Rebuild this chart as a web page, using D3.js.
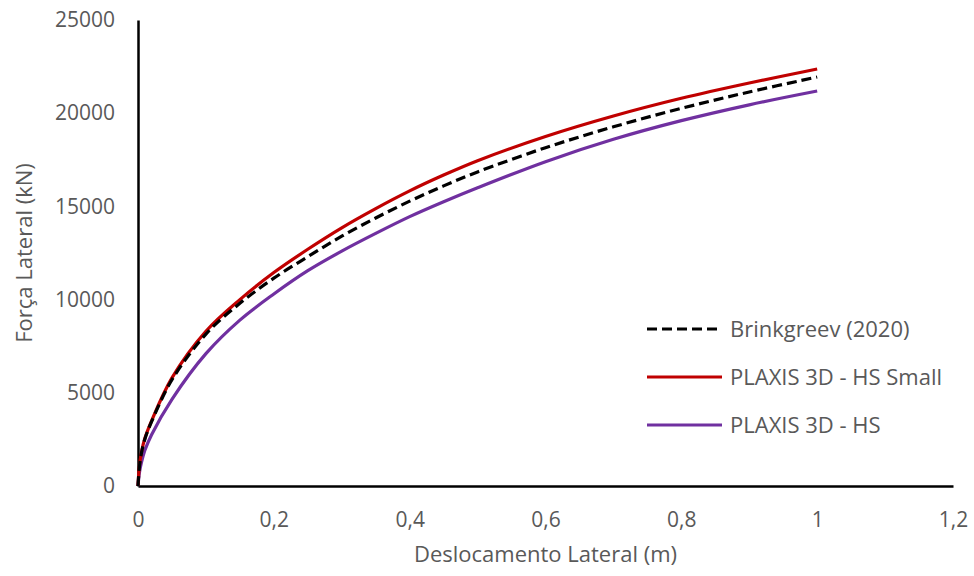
<!DOCTYPE html>
<html>
<head>
<meta charset="utf-8">
<script src="https://cdn.jsdelivr.net/npm/d3@7"></script>
<style>
  body { margin: 0; background: #fff; }
  text { font-family: "Open Sans", sans-serif; fill: #595959; }
</style>
</head>
<body>
<div id="chart"></div>
<script>
// values
var xTicks = [0, 0.2, 0.4, 0.6, 0.8, 1, 1.2];
var yTicks = [0, 5000, 10000, 15000, 20000, 25000];

var brinkX = [0, 0.002, 0.005, 0.01, 0.02, 0.05, 0.1, 0.15, 0.2, 0.25, 0.3, 0.35, 0.4, 0.45, 0.5, 0.6, 0.7, 0.8, 0.9, 1.0];
var brinkY = [0, 1000, 1750, 2500, 3450, 5700, 8150, 9800, 11150, 12300, 13400, 14380, 15280, 16100, 16850, 18150, 19270, 20260, 21140, 21940];

var hsSmallX = [0, 0.002, 0.005, 0.01, 0.02, 0.05, 0.1, 0.15, 0.2, 0.25, 0.3, 0.35, 0.4, 0.45, 0.5, 0.6, 0.7, 0.8, 0.9, 1.0];
var hsSmallY = [0, 1050, 1800, 2550, 3500, 5800, 8300, 10000, 11450, 12700, 13850, 14880, 15830, 16680, 17450, 18750, 19850, 20800, 21620, 22370];

var hsX = [0, 0.002, 0.005, 0.01, 0.02, 0.05, 0.1, 0.15, 0.2, 0.25, 0.3, 0.35, 0.4, 0.45, 0.5, 0.6, 0.7, 0.8, 0.9, 1.0];
var hsY = [0, 700, 1250, 1900, 2750, 4650, 7100, 8900, 10300, 11550, 12600, 13550, 14450, 15250, 16000, 17400, 18600, 19600, 20450, 21190];

var seriesNames = ["Brinkgreev (2020)", "PLAXIS 3D - HS Small", "PLAXIS 3D - HS"];

var cfg = { w: 974, h: 576, left: 138, right: 953, top: 20, bot: 486 };

var series = [
  { name: seriesNames[0], xs: brinkX, ys: brinkY, color: "#000000", dash: "10,5" },
  { name: seriesNames[1], xs: hsSmallX, ys: hsSmallY, color: "#C00000", dash: null },
  { name: seriesNames[2], xs: hsX, ys: hsY, color: "#7030A0", dash: null }
];

var svg = d3.select("#chart").append("svg")
  .attr("width", cfg.w)
  .attr("height", cfg.h);

var xScale = d3.scaleLinear().domain([0, 1.2]).range([cfg.left, cfg.right]);
var yScale = d3.scaleLinear().domain([0, 25000]).range([cfg.bot, cfg.top]);

// decimal comma like the original
var fmtX = function(d) { return String(d).replace(".", ","); };

// x axis (line only, no tick marks)
var xAxis = d3.axisBottom(xScale).tickValues(xTicks).tickSize(0).tickPadding(26).tickFormat(fmtX);
var gx = svg.append("g")
  .attr("transform", "translate(0," + cfg.bot + ")")
  .call(xAxis);
gx.select(".domain").attr("stroke", "#000").attr("stroke-width", 2.5);
gx.selectAll("text").style("font-size", "21px").attr("fill", "#595959").style("font-family", "Open Sans");

// y axis
var yAxis = d3.axisLeft(yScale).tickValues(yTicks).tickSize(0).tickPadding(23).tickFormat(d3.format("d"));
var gy = svg.append("g")
  .attr("transform", "translate(" + cfg.left + ",0)")
  .call(yAxis);
gy.select(".domain").attr("stroke", "#000").attr("stroke-width", 2.5);
gy.selectAll("text").style("font-size", "21px").attr("fill", "#595959").style("font-family", "Open Sans");

// curves
var line = d3.line()
  .x(function(d) { return xScale(d[0]); })
  .y(function(d) { return yScale(d[1]); })
  .curve(d3.curveCatmullRom.alpha(0.5));

// draw HS first, then HS Small, then dashed on top
[series[2], series[1], series[0]].forEach(function(s) {
  var pts = s.xs.map(function(x, i) { return [x, s.ys[i]]; });
  svg.append("path")
    .datum(pts)
    .attr("d", line)
    .attr("fill", "none")
    .attr("stroke", s.color)
    .attr("stroke-width", 3.2)
    .attr("stroke-dasharray", s.dash);
});

// axis titles
svg.append("text")
  .attr("x", (cfg.left + cfg.right) / 2)
  .attr("y", 562)
  .attr("text-anchor", "middle")
  .style("font-size", "22px")
  .text("Deslocamento Lateral (m)");

svg.append("text")
  .attr("transform", "translate(32," + ((cfg.top + cfg.bot) / 2) + ") rotate(-90)")
  .attr("text-anchor", "middle")
  .style("font-size", "22px")
  .text("Força Lateral (kN)");

// legend
var legend = svg.append("g").attr("transform", "translate(647,329)");
series.forEach(function(s, i) {
  var row = legend.append("g").attr("transform", "translate(0," + (i * 48) + ")");
  row.append("line")
    .attr("x1", 0).attr("x2", 75)
    .attr("stroke", s.color)
    .attr("stroke-width", 3.2)
    .attr("stroke-dasharray", s.dash);
  row.append("text")
    .attr("x", 83)
    .attr("dy", "0.35em")
    .style("font-size", "22px")
    .text(s.name);
});
</script>
</body>
</html>
